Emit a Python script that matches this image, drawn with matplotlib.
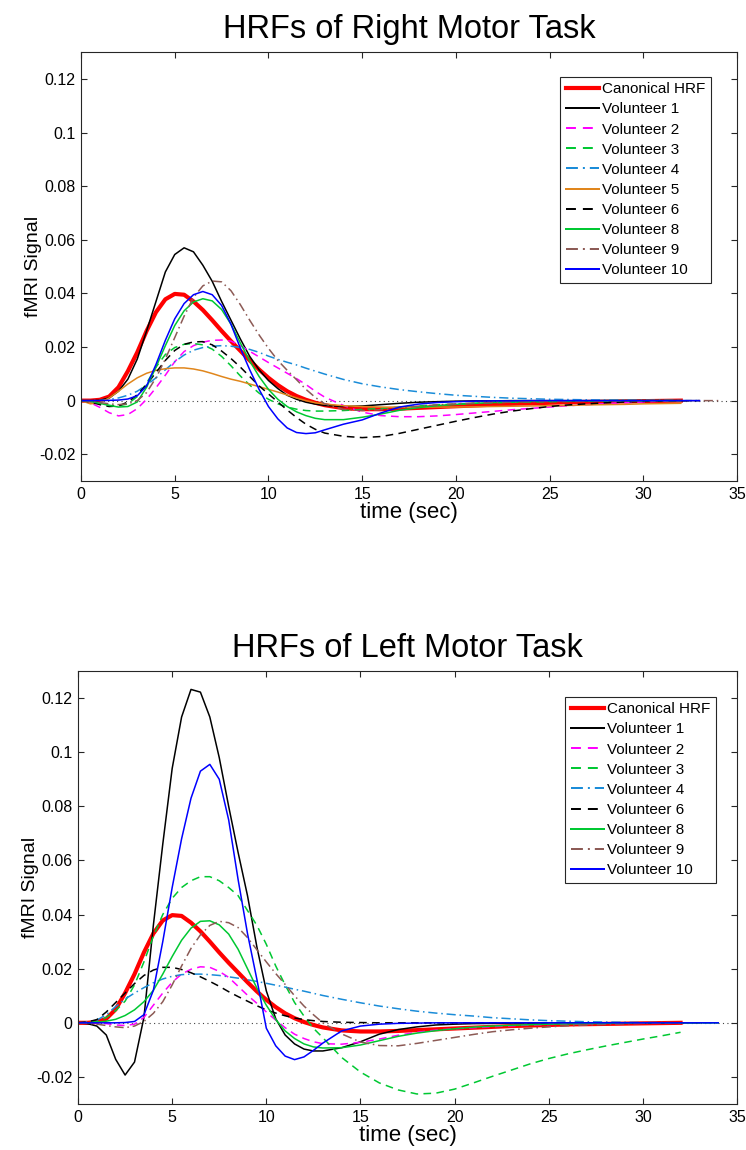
import numpy as np
import matplotlib
matplotlib.use("Agg")
import matplotlib.pyplot as plt
from matplotlib.ticker import FormatStrFormatter

N = float('nan')

# time grid (sec)
time = [0, 0.5, 1, 1.5, 2, 2.5, 3, 3.5, 4, 4.5, 5, 5.5, 6, 6.5, 7, 7.5, 8, 8.5, 9, 9.5,
        10, 10.5, 11, 11.5, 12, 12.5, 13,
        14, 15, 16, 17, 18, 19, 20, 21, 22, 23, 24, 25, 26, 27, 28, 29, 30, 31, 32, 33, 34]

canonical = [0, 0, 0.0003, 0.0015, 0.005, 0.011, 0.018, 0.026, 0.033, 0.0378, 0.0398, 0.0395, 0.037, 0.0338, 0.030, 0.026, 0.0222, 0.0186, 0.015, 0.0116, 0.0085, 0.0058, 0.0035, 0.0017, 0.0003, -0.0008, -0.0017,
             -0.0028, -0.0032, -0.0032, -0.003, -0.0027, -0.0024, -0.0021, -0.0018, -0.0015, -0.0012, -0.001, -0.0008, -0.0006, -0.0005, -0.0004, -0.0003, -0.0002, -0.0001, 0, N, N]

# ---------- Right motor task ----------
right_v1 = [0, 0, 0.0001, 0.001, 0.0035, 0.008, 0.0155, 0.026, 0.037, 0.048, 0.0545, 0.057, 0.0555, 0.0505, 0.0445, 0.037, 0.030, 0.023, 0.0165, 0.0115, 0.0075, 0.0045, 0.002, 0.0005, -0.0006, -0.0013, -0.0018,
            -0.0022, -0.002, -0.0015, -0.001, -0.0006, -0.0004, -0.0002, -0.0001, -0.0001, 0, 0, 0, 0, 0, 0, 0, 0, 0, 0, N, N]
right_v2 = [0, -0.0008, -0.0025, -0.0045, -0.0057, -0.0052, -0.003, 0.0005, 0.0048, 0.0095, 0.0145, 0.0183, 0.0205, 0.0218, 0.0225, 0.0226, 0.0222, 0.0205, 0.0184, 0.0163, 0.0142, 0.0122, 0.0102, 0.0082, 0.006, 0.0035, 0.0013,
            -0.0018, -0.0043, -0.0056, -0.006, -0.006, -0.0057, -0.0052, -0.0046, -0.004, -0.0034, -0.0029, -0.0024, -0.0019, -0.0015, -0.0011, -0.0008, -0.0005, -0.0002, 0, N, N]
right_v3 = [0, -0.0003, -0.001, -0.0018, -0.002, -0.0012, 0.0015, 0.0065, 0.0125, 0.0172, 0.0198, 0.021, 0.0213, 0.0208, 0.0192, 0.0165, 0.013, 0.0092, 0.0058, 0.0028, 0.0005, -0.0012, -0.0024, -0.0032, -0.0037, -0.0039, -0.0039,
            -0.0037, -0.0033, -0.0029, -0.0024, -0.002, -0.0016, -0.0013, -0.001, -0.0008, -0.0006, -0.0005, -0.0004, -0.0003, -0.0002, -0.0002, -0.0001, -0.0001, 0, 0, N, N]
right_v4 = [0, 0, 0.0001, 0.0004, 0.001, 0.002, 0.0035, 0.0058, 0.0085, 0.0115, 0.0145, 0.017, 0.0188, 0.0198, 0.0203, 0.0205, 0.0203, 0.0198, 0.0191, 0.018, 0.0166, 0.0154, 0.0143, 0.0133, 0.0121, 0.011, 0.0099,
            0.0079, 0.0063, 0.0051, 0.0041, 0.0033, 0.0026, 0.002, 0.0016, 0.0012, 0.0009, 0.0007, 0.0005, 0.0004, 0.0003, 0.0002, 0.0002, 0.0001, 0.0001, 0, 0, N]
right_v5 = [0, -0.0012, -0.0008, 0.001, 0.0035, 0.0062, 0.0085, 0.0102, 0.0113, 0.0119, 0.0122, 0.0122, 0.0118, 0.0111, 0.0101, 0.009, 0.008, 0.0072, 0.0062, 0.0052, 0.0042, 0.0032, 0.0021, 0.001, 0, -0.0008, -0.0013,
            -0.0019, -0.0022, -0.0024, -0.0025, -0.0025, -0.0024, -0.0024, -0.0023, -0.0022, -0.0021, -0.002, -0.0019, -0.0018, -0.0016, -0.0015, -0.0014, -0.0012, -0.0011, -0.001, N, N]
right_v6 = [0, -0.0005, -0.0015, -0.0022, -0.002, -0.0005, 0.0022, 0.006, 0.0105, 0.015, 0.0187, 0.021, 0.0219, 0.022, 0.0208, 0.0185, 0.0157, 0.0125, 0.009, 0.0055, 0.0025, -0.0005, -0.0035, -0.0063, -0.0088, -0.0107, -0.0121,
            -0.0133, -0.0138, -0.0134, -0.0122, -0.0107, -0.0092, -0.0077, -0.0063, -0.005, -0.0039, -0.003, -0.0022, -0.0016, -0.0012, -0.0008, -0.0005, -0.0003, -0.0002, -0.0001, 0, N]
right_v8 = [0, -0.0003, -0.001, -0.0018, -0.0024, -0.0022, -0.0005, 0.005, 0.0125, 0.0205, 0.028, 0.0335, 0.0368, 0.038, 0.0372, 0.034, 0.0285, 0.0215, 0.0148, 0.009, 0.0042, 0.0005, -0.0022, -0.0042, -0.0056, -0.0066, -0.0071,
            -0.0071, -0.0062, -0.005, -0.0036, -0.0026, -0.0019, -0.0014, -0.001, -0.0007, -0.0005, -0.0003, -0.0002, -0.0001, -0.0001, 0, 0, 0, 0, 0, N, N]
right_v9 = [0, -0.0002, -0.0007, -0.0012, -0.0015, -0.0012, 0, 0.003, 0.0085, 0.0155, 0.0235, 0.0315, 0.0385, 0.0428, 0.0446, 0.0443, 0.041, 0.0358, 0.030, 0.0245, 0.0195, 0.015, 0.0113, 0.0078, 0.0042, 0.0012, -0.0012,
            -0.0033, -0.0037, -0.0034, -0.0027, -0.0021, -0.0016, -0.0012, -0.0009, -0.0007, -0.0005, -0.0004, -0.0003, -0.0002, -0.0002, -0.0001, 0, 0, 0, 0, 0, 0]
right_v10 = [0, 0, 0, 0.0001, 0.0002, 0.0006, 0.0018, 0.0055, 0.0135, 0.0225, 0.0305, 0.0362, 0.0395, 0.0407, 0.0395, 0.0355, 0.0285, 0.0196, 0.0115, 0.0042, -0.0022, -0.0068, -0.0102, -0.0119, -0.0123, -0.012, -0.0109,
             -0.0088, -0.0072, -0.0046, -0.0024, -0.0013, -0.0007, -0.0004, -0.0002, -0.0001, -0.0001, 0, 0, 0, 0, 0, 0, 0, 0, 0, 0, N]

# ---------- Left motor task ----------
left_v1 = [0, -0.0003, -0.0012, -0.0045, -0.0135, -0.0193, -0.0145, 0.002, 0.036, 0.066, 0.094, 0.113, 0.1232, 0.1222, 0.113, 0.098, 0.080, 0.063, 0.047, 0.028, 0.0118, 0.0015, -0.0045, -0.0078, -0.0097, -0.0104, -0.0104,
           -0.0092, -0.007, -0.0042, -0.0025, -0.0015, -0.0008, -0.0005, -0.0003, -0.0002, -0.0001, 0, 0, 0, 0, 0, 0, 0, 0, 0, 0, N]
left_v2 = [0, 0, 0, -0.0003, -0.0008, -0.001, -0.0005, 0.002, 0.0065, 0.011, 0.015, 0.018, 0.0198, 0.0207, 0.0205, 0.019, 0.0168, 0.0135, 0.0102, 0.0072, 0.004, 0.001, -0.0018, -0.0042, -0.0058, -0.007, -0.0077,
           -0.0079, -0.0072, -0.006, -0.0046, -0.0035, -0.0027, -0.0022, -0.0018, -0.0014, -0.0011, -0.0008, -0.0006, -0.0004, -0.0003, -0.0002, -0.0001, -0.0001, 0, 0, N, N]
left_v3 = [0, 0, 0.0005, 0.002, 0.0045, 0.008, 0.014, 0.0225, 0.032, 0.040, 0.046, 0.050, 0.0525, 0.054, 0.054, 0.0525, 0.050, 0.047, 0.0415, 0.036, 0.029, 0.021, 0.014, 0.0075, 0.0025, -0.002, -0.0055,
           -0.0128, -0.0182, -0.0222, -0.0248, -0.0263, -0.026, -0.0245, -0.0222, -0.0198, -0.0175, -0.0152, -0.0132, -0.0115, -0.010, -0.0086, -0.0073, -0.006, -0.0048, -0.0035, N, N]
left_v4 = [0, 0.0003, 0.001, 0.003, 0.006, 0.0088, 0.011, 0.013, 0.0148, 0.0162, 0.0172, 0.0178, 0.018, 0.018, 0.0178, 0.0175, 0.017, 0.0165, 0.0159, 0.0153, 0.0146, 0.0139, 0.0132, 0.0124, 0.0117, 0.0109, 0.0101,
           0.0087, 0.0074, 0.0062, 0.0052, 0.0043, 0.0036, 0.003, 0.0025, 0.0019, 0.0015, 0.0011, 0.0008, 0.0006, 0.0004, 0.0003, 0.0002, 0.0001, 0.0001, 0, 0, 0]
left_v6 = [0, 0.0003, 0.0012, 0.004, 0.0075, 0.011, 0.0145, 0.0175, 0.0195, 0.0205, 0.0205, 0.0197, 0.0185, 0.017, 0.0153, 0.0135, 0.0115, 0.0097, 0.008, 0.0063, 0.0048, 0.0036, 0.0026, 0.0018, 0.0012, 0.0008, 0.0005,
           0.0002, 0.0001, 0, 0, 0, 0, 0, 0, 0, 0, 0, 0, 0, 0, 0, 0, 0, 0, 0, N, N]
left_v8 = [0, 0, 0.0002, 0.0006, 0.0013, 0.0027, 0.0048, 0.0078, 0.012, 0.018, 0.0245, 0.0305, 0.035, 0.0375, 0.0377, 0.0362, 0.0328, 0.0272, 0.020, 0.0128, 0.0065, 0.0012, -0.003, -0.0058, -0.0078, -0.0089, -0.0093,
           -0.0092, -0.0082, -0.0066, -0.005, -0.0038, -0.0029, -0.0022, -0.0016, -0.0012, -0.0009, -0.0007, -0.0005, -0.0004, -0.0003, -0.0002, -0.0001, 0, 0, 0, 0, 0]
left_v9 = [0, -0.0002, -0.0005, -0.001, -0.0015, -0.0018, -0.0012, 0.0005, 0.0035, 0.0078, 0.014, 0.021, 0.0275, 0.0325, 0.036, 0.0375, 0.037, 0.0352, 0.0315, 0.027, 0.0225, 0.0182, 0.0142, 0.010, 0.0062, 0.003, 0,
           -0.0041, -0.0071, -0.0084, -0.0085, -0.0076, -0.0065, -0.0054, -0.0043, -0.0033, -0.0026, -0.002, -0.0015, -0.0011, -0.0008, -0.0006, -0.0004, -0.0002, -0.0001, 0, N, N]
left_v10 = [0, 0, 0, 0, 0, 0.0001, 0.0005, 0.003, 0.012, 0.030, 0.050, 0.068, 0.083, 0.093, 0.0955, 0.090, 0.075, 0.053, 0.033, 0.016, -0.002, -0.0085, -0.0123, -0.0136, -0.0126, -0.0102, -0.0075,
            -0.003, -0.0012, -0.0005, -0.0002, -0.0001, 0, 0, 0, 0, 0, 0, 0, 0, 0, 0, 0, 0, 0, 0, 0, 0]

x_ticks = [0, 5, 10, 15, 20, 25, 30, 35]
y_ticks = [-0.02, 0, 0.02, 0.04, 0.06, 0.08, 0.1, 0.12]

GREEN = '#00c832'
STY = {
    'Canonical HRF': dict(color='#ff0000', lw=3.0, ls='-'),
    'Volunteer 1': dict(color='#000000', lw=1.1, ls='-'),
    'Volunteer 2': dict(color='#ff00ff', lw=1.1, ls=(0, (5, 3.5))),
    'Volunteer 3': dict(color=GREEN, lw=1.1, ls=(0, (5, 3.5))),
    'Volunteer 4': dict(color='#1a8cd8', lw=1.1, ls=(0, (6, 2.5, 1, 2.5))),
    'Volunteer 5': dict(color='#e0861c', lw=1.1, ls='-'),
    'Volunteer 6': dict(color='#000000', lw=1.1, ls=(0, (5, 3.5))),
    'Volunteer 8': dict(color=GREEN, lw=1.1, ls='-'),
    'Volunteer 9': dict(color='#8c5a55', lw=1.1, ls=(0, (6, 2.5, 1, 2.5))),
    'Volunteer 10': dict(color='#0000ff', lw=1.1, ls='-'),
}

right_series = [('Canonical HRF', canonical), ('Volunteer 1', right_v1), ('Volunteer 2', right_v2),
                ('Volunteer 3', right_v3), ('Volunteer 4', right_v4), ('Volunteer 5', right_v5),
                ('Volunteer 6', right_v6), ('Volunteer 8', right_v8), ('Volunteer 9', right_v9),
                ('Volunteer 10', right_v10)]
left_series = [('Canonical HRF', canonical), ('Volunteer 1', left_v1), ('Volunteer 2', left_v2),
               ('Volunteer 3', left_v3), ('Volunteer 4', left_v4), ('Volunteer 6', left_v6),
               ('Volunteer 8', left_v8), ('Volunteer 9', left_v9), ('Volunteer 10', left_v10)]

plt.rcParams['font.family'] = ['Liberation Sans', 'DejaVu Sans']

fig = plt.figure(figsize=(7.46, 11.5), dpi=100)
ax1 = fig.add_axes([0.1086, 0.5817, 0.8794, 0.3730])
ax2 = fig.add_axes([0.1046, 0.0400, 0.8834, 0.3765])


def draw(ax, series, title, leg_anchor):
    for name, vals in series:
        ax.plot(time, vals, label=name, **STY[name])
    ax.axhline(0, color='#444444', lw=0.8, ls=(0, (1, 3)), zorder=0.5)
    ax.set_xlim(0, 35)
    ax.set_ylim(-0.03, 0.13)
    ax.set_xticks(x_ticks)
    ax.set_yticks(y_ticks)
    ax.yaxis.set_major_formatter(FormatStrFormatter('%g'))
    ax.tick_params(direction='in', length=4, width=0.8, top=True, right=True,
                   labelsize=11.5, colors='#262626', labelcolor='black', pad=4)
    for sp in ax.spines.values():
        sp.set_color('#262626')
        sp.set_linewidth(0.8)
    ax.set_xlabel('time (sec)', fontsize=16, labelpad=0)
    ax.set_ylabel('fMRI Signal', fontsize=14)
    ax.yaxis.set_label_coords(-0.059, 0.5)
    ax.set_title(title, fontsize=23.5, pad=10)
    leg = ax.legend(loc='upper right', bbox_to_anchor=leg_anchor, borderaxespad=0,
                    fontsize=11, handlelength=2.2, handletextpad=0.2, labelspacing=0.4,
                    borderpad=0.35, fancybox=False, framealpha=1, edgecolor='#262626')
    leg.get_frame().set_linewidth(0.8)
    for h in leg.get_lines():
        h.set_linewidth(h.get_linewidth() * 1.3 if h.get_linewidth() < 2 else h.get_linewidth())


draw(ax1, right_series, 'HRFs of Right Motor Task', (0.960, 0.942))
draw(ax2, left_series, 'HRFs of Left Motor Task', (0.968, 0.940))

fig.savefig('out.png', dpi=100)
